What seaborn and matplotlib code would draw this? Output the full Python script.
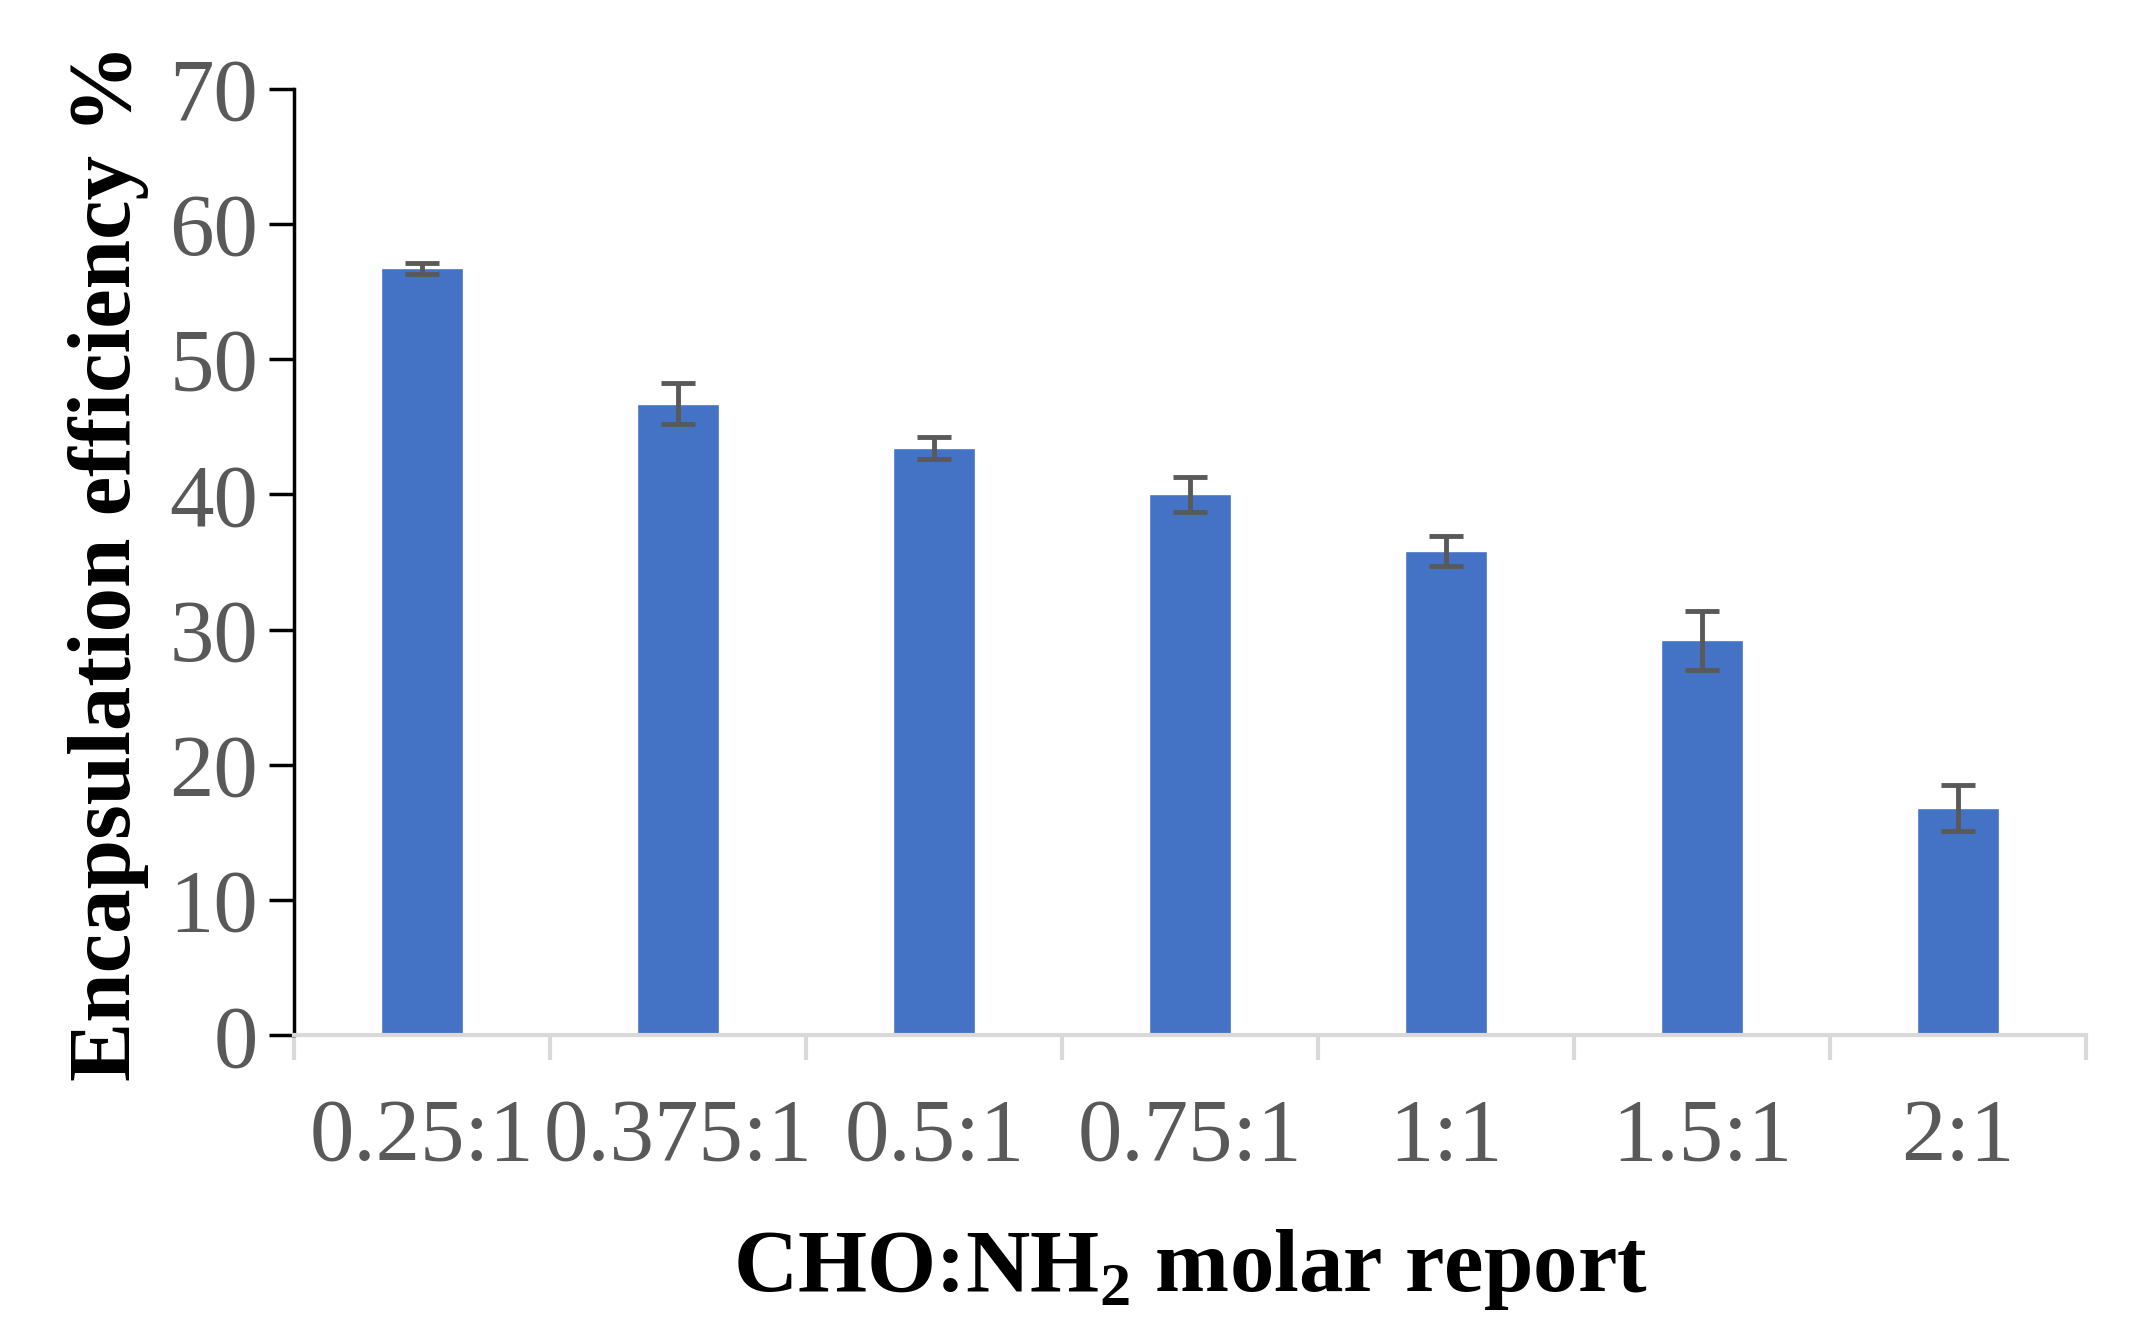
import matplotlib
matplotlib.use("Agg")
import matplotlib.pyplot as plt
import seaborn as sns
import pandas as pd
import numpy as np

categories = ["0.25:1", "0.375:1", "0.5:1", "0.75:1", "1:1", "1.5:1", "2:1"]
values = [56.7, 46.7, 43.4, 40.0, 35.8, 29.2, 16.8]
errors = [0.4, 1.5, 0.8, 1.3, 1.1, 2.2, 1.7]

sns.set_style("white")
plt.rcParams['font.family'] = ['Liberation Serif', 'DejaVu Serif']
plt.rcParams['mathtext.fontset'] = 'custom'
plt.rcParams['mathtext.rm'] = 'Liberation Serif'
plt.rcParams['mathtext.bf'] = 'Liberation Serif:bold'

df = pd.DataFrame({"cat": categories, "val": values})
fig = plt.figure(figsize=(21.33, 13.41), dpi=100)
ax = fig.add_axes([0.138, 0.228, 0.84, 0.706])
sns.barplot(data=df, x="cat", y="val", color="#4472C4", width=0.32, ax=ax, saturation=1)
ax.errorbar(np.arange(len(values)), values, yerr=errors, fmt="none",
            ecolor="#595959", elinewidth=3.5, capsize=12, capthick=3.5)
ax.set_xlim(-0.5, len(categories) - 0.5)
ax.set_ylim(0, 70)
ax.set_yticks(range(0, 71, 10))
ax.tick_params(axis="y", direction="out", length=18, width=2.5, color="black",
               labelsize=64, labelcolor="#595959", pad=8, left=True)
ax.set_xticks(np.arange(len(categories)))
ax.set_xticklabels(categories)
ax.tick_params(axis="x", which="major", length=0, labelsize=64, labelcolor="#595959", pad=45)
ax.set_xticks(np.arange(-0.5, len(categories)), minor=True)
ax.tick_params(axis="x", which="minor", direction="out", length=18, width=3, color="#D9D9D9", bottom=True)
for s in ["top", "right"]:
    ax.spines[s].set_visible(False)
ax.spines["left"].set_color("black")
ax.spines["left"].set_linewidth(2.5)
ax.spines["bottom"].set_color("#D9D9D9")
ax.spines["bottom"].set_linewidth(3)
ax.set_ylabel("Encapsulation efficiency %", fontsize=64, fontweight="bold", labelpad=15, color="black")
ax.set_xlabel(r"CHO:NH$_\mathbf{2}$ molar report", fontsize=64, fontweight="bold", labelpad=35, color="black")
fig.savefig("out.png", dpi=100)
